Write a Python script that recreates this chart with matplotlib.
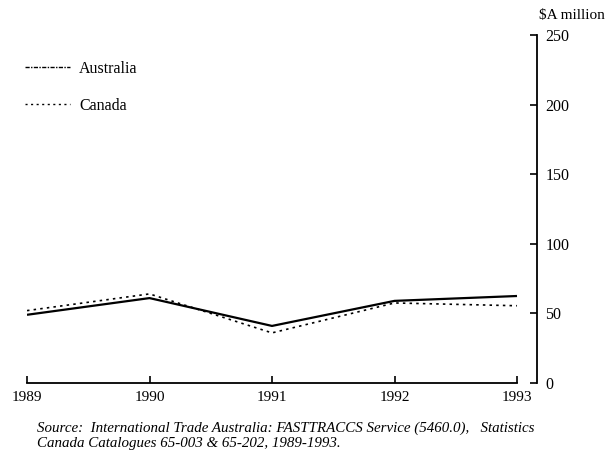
import matplotlib
matplotlib.use("Agg")
import matplotlib.pyplot as plt
from matplotlib.lines import Line2D

years = [1989, 1990, 1991, 1992, 1993]
australia = [49, 61, 41, 59, 62.5]
canada = [52, 64, 36, 57.5, 55.5]
yticks = [0, 50, 100, 150, 200, 250]

plt.rcParams['font.family'] = ['Liberation Serif', 'DejaVu Serif']

fig = plt.figure(figsize=(6.14, 4.55), dpi=100)
ax = fig.add_axes([27/614, 72/455, 510/614, 348/455])

ax.plot(years, australia, color='black', lw=1.6, solid_capstyle='butt')
ax.plot(years, canada, color='black', lw=1.2, linestyle=(0, (1.5, 2.5)))

ax.set_xlim(1989, 1993 + 20/122.5)
ax.set_ylim(0, 250)

for s in ['left', 'top']:
    ax.spines[s].set_visible(False)
ax.spines['bottom'].set_bounds(1989, 1993)
ax.spines['bottom'].set_linewidth(1.3)
ax.spines['right'].set_linewidth(1.3)

ax.set_xticks(years)
ax.set_xticklabels([str(y) for y in years], fontsize=11)
ax.tick_params(axis='x', direction='in', length=5, width=1.2, pad=6)

ax.yaxis.tick_right()
ax.set_yticks(yticks)
ax.set_yticklabels([str(v) for v in yticks], fontsize=11.5)
ax.tick_params(axis='y', direction='in', length=5, width=1.2, pad=6)

fig.text(539/614, 1 - 15/455, '$A million', fontsize=11, va='center', ha='left')

handles = [Line2D([], [], color='black', lw=1.0, linestyle=(0, (3, 1, 1, 1))),
           Line2D([], [], color='black', lw=1.0, linestyle=(0, (1.5, 2.5)))]
fig.legend(handles, ['Australia', 'Canada'], loc='upper left',
           bbox_to_anchor=(25/614, 1 - 61/455), frameon=False, fontsize=11.5,
           handlelength=2.8, handletextpad=0.6, labelspacing=1.3,
           borderpad=0, borderaxespad=0)

fig.text(37/614, 1 - 428/455,
         'Source:  International Trade Australia: FASTTRACCS Service (5460.0),   Statistics',
         fontsize=10.8, style='italic', va='center', ha='left')
fig.text(37/614, 1 - 443/455,
         'Canada Catalogues 65-003 & 65-202, 1989-1993.',
         fontsize=10.8, style='italic', va='center', ha='left')

fig.savefig('out.png', dpi=100)
